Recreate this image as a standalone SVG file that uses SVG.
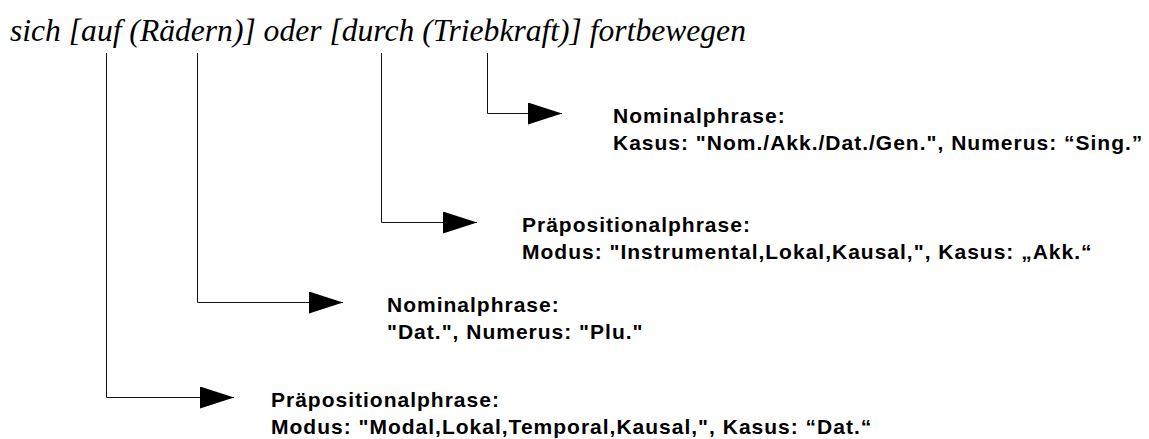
<svg xmlns="http://www.w3.org/2000/svg" width="1149" height="439" viewBox="0 0 1149 439">
  <style>
    .title { font-family: "Liberation Serif", "Times New Roman", serif; font-style: italic; font-size: 31.6px; fill: #000; }
    .label { font-family: "Liberation Sans", Arial, sans-serif; font-weight: bold; font-size: 21px; letter-spacing: 1px; fill: #000; }
    .conn { fill: none; stroke: #111; stroke-width: 1; }
  </style>
  <defs>
    <marker id="arrow" viewBox="0 0 34 22" refX="34" refY="11" markerWidth="34" markerHeight="22" markerUnits="userSpaceOnUse" orient="auto">
      <path d="M0,0 L34,11 L0,22 Z" fill="#000"/>
    </marker>
  </defs>
  <rect width="1149" height="439" fill="#fff"/>

  <text class="title" x="10" y="41">sich [auf (Rädern)] oder [durch (Triebkraft)] fortbewegen</text>

  <g id="connectors">
    <path class="conn" d="M487.5,53 V113.5 H562" marker-end="url(#arrow)"/>
    <path class="conn" d="M381.5,53 V222.5 H477" marker-end="url(#arrow)"/>
    <path class="conn" d="M197.5,53 V302.5 H343" marker-end="url(#arrow)"/>
    <path class="conn" d="M106.5,53 V397.5 H234" marker-end="url(#arrow)"/>
  </g>

  <g id="np-triebkraft">
    <text class="label" x="613" y="122.5">Nominalphrase:</text>
    <text class="label" x="613" y="149.5">Kasus: "Nom./Akk./Dat./Gen.", Numerus: “Sing.”</text>
  </g>

  <g id="pp-durch">
    <text class="label" x="522" y="231.5">Präpositionalphrase:</text>
    <text class="label" x="522" y="258.5">Modus: "Instrumental,Lokal,Kausal,", Kasus: „Akk.“</text>
  </g>

  <g id="np-raedern">
    <text class="label" x="387" y="311.5">Nominalphrase:</text>
    <text class="label" x="387" y="338.5">"Dat.", Numerus: "Plu."</text>
  </g>

  <g id="pp-auf">
    <text class="label" x="271" y="406.5">Präpositionalphrase:</text>
    <text class="label" x="271" y="433.5">Modus: "Modal,Lokal,Temporal,Kausal,", Kasus: “Dat.“</text>
  </g>
</svg>
